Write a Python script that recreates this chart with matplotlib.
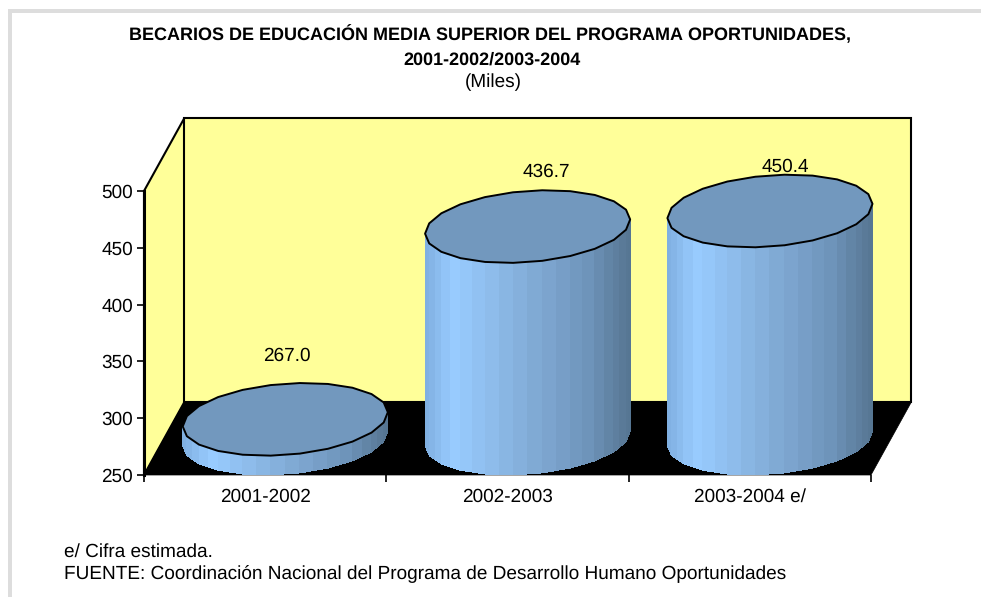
import matplotlib
matplotlib.use("Agg")
import matplotlib.pyplot as plt
import numpy as np
from matplotlib.colors import LinearSegmentedColormap
from matplotlib.patches import Polygon, Rectangle

plt.rcParams["font.family"] = ["Liberation Sans", "DejaVu Sans"]
plt.rcParams["text.hinting"] = "none"
plt.rcParams["text.hinting_factor"] = 1

categories = ["2001-2002", "2002-2003", "2003-2004 e/"]
values = [267.0, 436.7, 450.4]
value_labels = ["267.0", "436.7", "450.4"]
y_ticks = [250, 300, 350, 400, 450, 500]

W, H = 981, 597
depth_x = 0.166
depth_y = 64
radius = 0.415
n_facets = 22
title_size = 13.25
note_size = 13.4
label_size = 13.8

body_cmap = LinearSegmentedColormap.from_list(
    "body", [(0, "#7FAFE0"), (0.14, "#99CCFF"), (0.5, "#83ADD8"), (0.8, "#6E94BA"), (1, "#567592")]
)

fig = plt.figure(figsize=(W / 100, H / 100), dpi=100, facecolor="white")

# gray frame left over from the original page
fig.add_artist(Rectangle((8 / W, 0), 4 / W, 1 - 9 / H, transform=fig.transFigure, color="#DDDDDD", lw=0))
fig.add_artist(Rectangle((8 / W, 1 - 13 / H), 1 - 8 / W, 4 / H, transform=fig.transFigure, color="#DDDDDD", lw=0))

ax = fig.add_axes([144 / W, 1 - 475 / H, 727 / W, 284 / H])
ax.set_xlim(0, 3)
ax.set_ylim(250, 500)
ax.patch.set_visible(False)
ax.spines[["top", "right", "bottom"]].set_visible(False)
ax.spines["left"].set_linewidth(2.2)
ax.spines["left"].set_zorder(6)

# walls and floor of the 3d box
ax.add_patch(Polygon([(0, 250), (depth_x, 250 + depth_y), (depth_x, 500 + depth_y), (0, 500)],
                     closed=True, fc="#FFFF99", ec="black", lw=1.5, clip_on=False, zorder=1))
ax.add_patch(Rectangle((depth_x, 250 + depth_y), 3, 250, fc="#FFFF99", ec="black", lw=1.5, clip_on=False, zorder=1))
ax.add_patch(Polygon([(0, 250), (3, 250), (3 + depth_x, 250 + depth_y), (depth_x, 250 + depth_y)],
                     closed=True, fc="black", ec="black", lw=0.5, clip_on=False, zorder=2))


def ring(cx, cy, t):
    # sheared ellipse, same skew as the floor
    x = cx + radius * np.cos(t) + depth_x / 2 * np.sin(t)
    y = cy + depth_y / 2 * np.sin(t)
    return x, y


for i, v in enumerate(values):
    cx = i + 0.5 + depth_x / 2
    base = 250 + depth_y / 2
    top = v + depth_y / 2
    t_right = np.arctan2(depth_x / 2, radius)
    t = np.linspace(t_right + np.pi, t_right + 2 * np.pi, n_facets // 2 + 1)
    xb, yb = ring(cx, base, t)
    xt, yt = ring(cx, top, t)
    span = xb.max() - xb.min()
    for k in range(len(t) - 1):
        steps = np.linspace(0, 1, 3)
        for a, b in zip(steps[:-1], steps[1:]):
            xa = xb[k] + (xb[k + 1] - xb[k]) * a
            xc = xb[k] + (xb[k + 1] - xb[k]) * b
            ya_b = yb[k] + (yb[k + 1] - yb[k]) * a
            yc_b = yb[k] + (yb[k + 1] - yb[k]) * b
            ya_t = yt[k] + (yt[k + 1] - yt[k]) * a
            yc_t = yt[k] + (yt[k + 1] - yt[k]) * b
            color = body_cmap(((xa + xc) / 2 - xb.min()) / span)
            ax.add_patch(Polygon([(xa, ya_b), (xc, yc_b), (xc, yc_t), (xa, ya_t)], closed=True,
                                 fc=color, ec="none", lw=0, antialiased=False, clip_on=False, zorder=3))
    tc = np.linspace(0, 2 * np.pi, n_facets, endpoint=False) + t_right
    xc, yc = ring(cx, top, tc)
    ax.add_patch(Polygon(np.column_stack([xc, yc]), closed=True, fc="#7298BE", ec="black", lw=1.4,
                         joinstyle="round", clip_on=False, zorder=4))

# data labels, placed as in the original (px above the cap)
label_offsets = [(2, 27), (19, 18), (15, 8)]
for i, v in enumerate(values):
    cx = i + 0.5 + depth_x / 2
    top = v + depth_y
    ax.annotate(value_labels[i], (cx, top), xytext=label_offsets[i], textcoords="offset pixels",
                ha="center", va="center", fontsize=label_size, color="black", annotation_clip=False, zorder=5)

ax.set_yticks(y_ticks)
ax.set_xticks([0, 1, 2, 3])
ax.set_xticklabels([])
ax.set_xticks([0.5, 1.5, 2.5], minor=True)
ax.set_xticklabels(categories, minor=True, fontsize=label_size)
ax.tick_params(axis="y", length=5, width=1.2, pad=3, labelsize=label_size)
ax.tick_params(axis="x", which="major", length=5, width=1.2)
ax.tick_params(axis="x", which="minor", length=0, pad=9.5)

# titles and notes
fig.text(490 / W, 1 - 35 / H, "BECARIOS DE EDUCACIÓN MEDIA SUPERIOR DEL PROGRAMA OPORTUNIDADES,",
         ha="center", va="center", fontsize=title_size, fontweight="bold")
fig.text(492 / W, 1 - 60 / H, "2001-2002/2003-2004", ha="center", va="center", fontsize=title_size, fontweight="bold")
fig.text(493 / W, 1 - 82 / H, "(Miles)", ha="center", va="center", fontsize=label_size)
fig.text(64 / W, 1 - 552 / H, "e/ Cifra estimada.", ha="left", va="center", fontsize=note_size)
fig.text(64 / W, 1 - 574 / H, "FUENTE: Coordinación Nacional del Programa de Desarrollo Humano Oportunidades",
         ha="left", va="center", fontsize=note_size)

fig.savefig("out.png", dpi=100)
plt.close(fig)
